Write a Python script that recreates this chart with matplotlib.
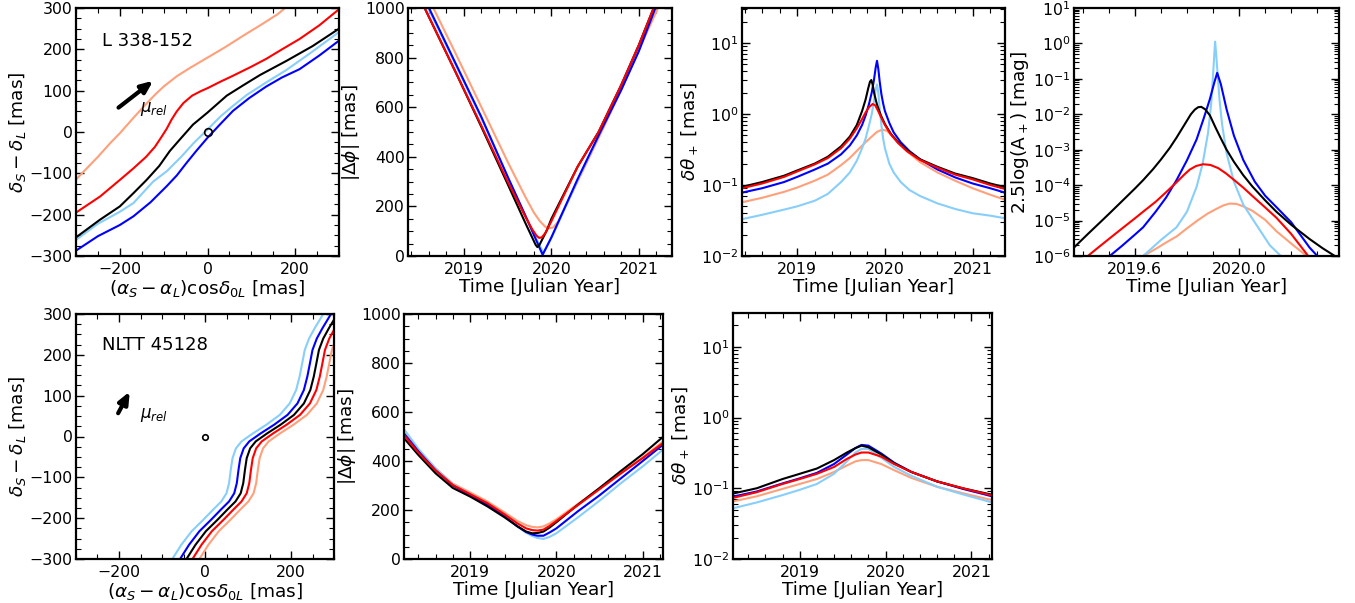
import matplotlib
matplotlib.use('Agg')
import matplotlib.pyplot as plt
from matplotlib.ticker import MultipleLocator, LogLocator, NullFormatter, FormatStrFormatter

plt.rcParams['font.family'] = 'DejaVu Sans'
plt.rcParams['mathtext.fontset'] = 'dejavusans'

# ---------------- data ----------------
series_names = ['salmon', 'lightblue', 'blue', 'black', 'red']
series_colors = {'black': 'black', 'red': '#FF0000', 'blue': '#0000FF',
                 'lightblue': '#87CEFA', 'salmon': '#FFA07A'}

# Panel 1: L 338-152 trajectories (x, y in mas)
t1_black_x = [-300, -245, -200, -169, -139, -110, -86, -63, -33, 0, 44, 80, 120, 180, 240, 300]
t1_black_y = [-255, -212, -180, -148, -116, -82, -46, -18, 18, 47, 88, 112, 138, 172, 208, 250]
t1_red_x = [-300, -245, -200, -169, -140, -120, -105, -93, -82, -70, -55, -35, -15, 0, 30, 58, 100, 134, 170, 210, 255, 300]
t1_red_y = [-195, -156, -116, -88, -60, -36, -12, 8, 30, 50, 70, 88, 99, 106, 122, 136, 158, 177, 200, 225, 258, 297]
t1_blue_x = [-300, -250, -200, -169, -130, -93, -70, -48, -25, 0, 30, 58, 95, 134, 170, 210, 255, 300]
t1_blue_y = [-287, -252, -225, -204, -170, -131, -105, -75, -45, -14, 20, 51, 82, 110, 132, 152, 185, 221]
t1_lblue_x = [-300, -250, -200, -169, -124, -93, -60, -30, 0, 30, 58, 90, 134, 180, 240, 300]
t1_lblue_y = [-261, -222, -193, -172, -120, -95, -60, -25, 6, 38, 63, 90, 120, 150, 195, 242]
t1_salmon_x = [-300, -250, -222, -200, -170, -146, -120, -100, -70, -40, 0, 40, 80, 120, 160, 177]
t1_salmon_y = [-115, -60, -27, -3, 33, 61, 90, 110, 135, 155, 180, 205, 232, 258, 285, 300]

# Panel 2: |dphi| (mas) vs time, L 338-152
p2_black_t = [2018.55, 2018.9, 2019.2, 2019.5, 2019.7, 2019.78, 2019.82, 2019.84, 2019.86, 2019.9, 2019.95, 2020.0, 2020.3, 2020.54, 2020.8, 2021.0, 2021.17]
p2_black_y = [1000, 745, 520, 290, 135, 75, 45, 36, 42, 70, 105, 150, 360, 500, 690, 850, 1000]
p2_red_t = [2018.55, 2018.9, 2019.2, 2019.5, 2019.7, 2019.78, 2019.83, 2019.86, 2019.89, 2019.93, 2020.0, 2020.3, 2020.54, 2020.8, 2021.0, 2021.17]
p2_red_y = [1000, 745, 525, 300, 160, 108, 82, 73, 75, 92, 140, 360, 500, 690, 850, 1000]
p2_blue_t = [2018.60, 2018.9, 2019.2, 2019.5, 2019.7, 2019.8, 2019.9, 2020.0, 2020.3, 2020.56, 2020.8, 2021.0, 2021.19]
p2_blue_y = [1000, 780, 560, 320, 165, 85, 5, 75, 310, 500, 670, 825, 1000]
p2_lblue_t = [2018.59, 2018.9, 2019.2, 2019.5, 2019.7, 2019.8, 2019.91, 2020.0, 2020.3, 2020.56, 2020.8, 2021.0, 2021.18]
p2_lblue_y = [1000, 775, 555, 318, 165, 88, 12, 72, 305, 500, 675, 830, 1000]
p2_salmon_t = [2018.65, 2018.9, 2019.2, 2019.5, 2019.7, 2019.8, 2019.87, 2019.93, 2019.97, 2020.02, 2020.08, 2020.3, 2020.6, 2020.8, 2021.0, 2021.22]
p2_salmon_y = [1000, 820, 600, 380, 240, 175, 140, 118, 112, 115, 140, 300, 520, 670, 830, 1000]

# Panel 3: delta theta+ (mas), L 338-152
p3_black_t = [2018.37, 2018.6, 2018.85, 2019.0, 2019.2, 2019.35, 2019.5, 2019.6, 2019.68, 2019.74, 2019.78, 2019.81, 2019.83, 2019.845, 2019.86, 2019.88, 2019.91, 2019.95, 2020.0, 2020.07, 2020.15, 2020.25, 2020.4, 2020.6, 2020.8, 2021.0, 2021.2, 2021.37]
p3_black_y = [0.094, 0.11, 0.135, 0.16, 0.2, 0.25, 0.35, 0.48, 0.7, 1.1, 1.6, 2.3, 2.85, 3.0, 2.6, 1.9, 1.35, 0.98, 0.72, 0.52, 0.4, 0.31, 0.23, 0.18, 0.145, 0.125, 0.105, 0.093]
p3_red_t = [2018.37, 2018.6, 2018.85, 2019.0, 2019.2, 2019.35, 2019.5, 2019.6, 2019.68, 2019.74, 2019.78, 2019.82, 2019.86, 2019.89, 2019.92, 2019.96, 2020.0, 2020.07, 2020.15, 2020.25, 2020.4, 2020.6, 2020.8, 2021.0, 2021.2, 2021.37]
p3_red_y = [0.09, 0.105, 0.13, 0.155, 0.195, 0.24, 0.33, 0.45, 0.63, 0.85, 1.05, 1.25, 1.38, 1.32, 1.12, 0.88, 0.7, 0.51, 0.39, 0.3, 0.225, 0.175, 0.14, 0.12, 0.1, 0.088]
p3_blue_t = [2018.37, 2018.6, 2018.85, 2019.0, 2019.2, 2019.35, 2019.5, 2019.6, 2019.68, 2019.74, 2019.78, 2019.82, 2019.85, 2019.875, 2019.895, 2019.91, 2019.925, 2019.94, 2019.96, 2019.98, 2020.0, 2020.05, 2020.1, 2020.18, 2020.28, 2020.4, 2020.6, 2020.8, 2021.0, 2021.2, 2021.37]
p3_blue_y = [0.078, 0.09, 0.11, 0.13, 0.165, 0.2, 0.27, 0.36, 0.5, 0.7, 0.95, 1.4, 2.0, 3.0, 4.5, 5.6, 4.3, 2.9, 1.9, 1.4, 1.1, 0.75, 0.55, 0.4, 0.3, 0.23, 0.165, 0.128, 0.105, 0.09, 0.078]
p3_lblue_t = [2018.37, 2018.6, 2018.85, 2019.0, 2019.2, 2019.35, 2019.5, 2019.6, 2019.68, 2019.74, 2019.78, 2019.82, 2019.85, 2019.875, 2019.895, 2019.91, 2019.925, 2019.94, 2019.96, 2019.98, 2020.0, 2020.05, 2020.1, 2020.18, 2020.28, 2020.4, 2020.6, 2020.8, 2021.0, 2021.2, 2021.37]
p3_lblue_y = [0.033, 0.038, 0.045, 0.05, 0.06, 0.075, 0.11, 0.15, 0.22, 0.33, 0.45, 0.7, 1.0, 1.5, 2.2, 2.6, 2.0, 1.2, 0.7, 0.45, 0.33, 0.2, 0.15, 0.11, 0.085, 0.07, 0.055, 0.046, 0.04, 0.037, 0.034]
p3_salmon_t = [2018.37, 2018.6, 2018.85, 2019.0, 2019.2, 2019.35, 2019.5, 2019.6, 2019.7, 2019.78, 2019.85, 2019.91, 2019.97, 2020.02, 2020.08, 2020.15, 2020.25, 2020.4, 2020.6, 2020.8, 2021.0, 2021.2, 2021.37]
p3_salmon_y = [0.057, 0.066, 0.08, 0.092, 0.115, 0.14, 0.19, 0.24, 0.32, 0.4, 0.48, 0.56, 0.6, 0.58, 0.5, 0.4, 0.3, 0.21, 0.15, 0.115, 0.09, 0.073, 0.062]

# Panel 4: 2.5 log(A+) (mag), L 338-152; values given as log10 exponents
p4_black_t = [2019.367, 2019.42, 2019.47, 2019.504, 2019.55, 2019.6, 2019.632, 2019.67, 2019.70, 2019.734, 2019.76, 2019.78, 2019.80, 2019.815, 2019.83, 2019.843, 2019.855, 2019.87, 2019.888, 2019.91, 2019.93, 2019.952, 2019.98, 2020.016, 2020.05, 2020.1, 2020.143, 2020.2, 2020.27, 2020.32, 2020.367]
p4_black_exp = [-5.76, -5.38, -5.03, -4.79, -4.46, -4.1, -3.86, -3.55, -3.28, -2.95, -2.66, -2.42, -2.18, -2.0, -1.87, -1.8, -1.79, -1.86, -2.03, -2.38, -2.68, -3.0, -3.34, -3.72, -4.03, -4.43, -4.75, -5.12, -5.52, -5.78, -6.0]
p4_red_t = [2019.42, 2019.46, 2019.504, 2019.55, 2019.6, 2019.632, 2019.68, 2019.72, 2019.76, 2019.79, 2019.811, 2019.835, 2019.862, 2019.89, 2019.92, 2019.95, 2019.98, 2020.016, 2020.05, 2020.1, 2020.143, 2020.2, 2020.265]
p4_red_exp = [-6.0, -5.76, -5.5, -5.23, -4.94, -4.75, -4.47, -4.2, -3.92, -3.7, -3.56, -3.46, -3.41, -3.43, -3.52, -3.67, -3.85, -4.07, -4.3, -4.63, -4.92, -5.38, -6.0]
p4_blue_t = [2019.504, 2019.55, 2019.6, 2019.632, 2019.68, 2019.72, 2019.76, 2019.8, 2019.837, 2019.865, 2019.888, 2019.905, 2019.916, 2019.93, 2019.952, 2019.98, 2020.016, 2020.06, 2020.1, 2020.143, 2020.2, 2020.27, 2020.3]
p4_blue_exp = [-6.0, -5.72, -5.4, -5.19, -4.75, -4.35, -3.86, -3.3, -2.71, -2.1, -1.57, -1.1, -0.83, -1.15, -1.86, -2.6, -3.29, -3.9, -4.3, -4.62, -5.05, -5.76, -6.0]
p4_lblue_t = [2019.632, 2019.7, 2019.76, 2019.8, 2019.837, 2019.86, 2019.881, 2019.893, 2019.9, 2019.905, 2019.908, 2019.912, 2019.918, 2019.925, 2019.935, 2019.952, 2019.98, 2020.016, 2020.06, 2020.118, 2020.16]
p4_lblue_exp = [-6.0, -5.55, -5.19, -4.75, -4.05, -3.4, -2.52, -1.7, -0.9, -0.3, 0.05, -0.3, -0.9, -1.6, -2.3, -3.1, -3.9, -4.55, -5.05, -5.7, -6.0]
p4_salmon_t = [2019.632, 2019.68, 2019.72, 2019.76, 2019.8, 2019.84, 2019.88, 2019.913, 2019.94, 2019.964, 2019.99, 2020.016, 2020.05, 2020.1, 2020.143, 2020.2, 2020.259]
p4_salmon_exp = [-6.0, -5.8, -5.62, -5.45, -5.22, -5.0, -4.8, -4.67, -4.57, -4.52, -4.53, -4.6, -4.72, -4.98, -5.3, -5.65, -6.0]

# Panel 5: NLTT 45128 trajectories (x, y in mas)
t5_y = [-300, -265, -232, -204, -179, -159, -139, -114, -81, -53, -29, -12, 8, 29, 53, 81, 114, 147, 179, 212, 240, 265, 300]
t5_lblue_x = [-76, -55, -31, -4, 19, 38, 50, 56, 60, 64, 72, 85, 112, 143, 174, 197, 212, 220, 226, 232, 242, 255, 275]
t5_blue_x = [-58, -37, -13, 14, 37, 56, 68, 74, 78, 82, 90, 103, 130, 161, 192, 215, 230, 238, 244, 250, 260, 273, 293]
t5_black_x = [-43, -22, 2, 29, 52, 71, 83, 89, 93, 97, 105, 118, 145, 176, 207, 230, 245, 253, 259, 265, 275, 288, 308]
t5_red_x = [-29, -8, 16, 43, 66, 85, 97, 103, 107, 111, 119, 132, 159, 190, 221, 244, 259, 267, 273, 279, 289, 302, 322]
t5_salmon_x = [-13, 8, 32, 59, 82, 101, 113, 119, 123, 127, 135, 148, 175, 206, 237, 260, 275, 283, 289, 295, 305, 318, 338]

# Panel 6: |dphi| (mas), NLTT 45128
p6_t = [2018.235, 2018.4, 2018.6, 2018.8, 2019.0, 2019.2, 2019.4, 2019.55, 2019.65, 2019.72, 2019.78, 2019.85, 2019.92, 2020.0, 2020.25, 2020.5, 2020.75, 2021.0, 2021.23]
p6_black = [493, 425, 350, 290, 255, 215, 170, 133, 112, 105, 106, 112, 128, 150, 222, 290, 360, 428, 497]
p6_red = [505, 435, 362, 302, 265, 228, 182, 145, 125, 118, 116, 120, 135, 155, 220, 285, 350, 412, 472]
p6_salmon = [515, 445, 370, 308, 272, 235, 190, 155, 138, 131, 129, 133, 145, 162, 225, 288, 352, 415, 478]
p6_blue = [512, 440, 362, 300, 262, 222, 174, 133, 110, 100, 95, 95, 108, 125, 195, 260, 330, 400, 465]
p6_lblue = [530, 450, 370, 305, 265, 223, 175, 132, 107, 94, 86, 82, 90, 105, 170, 238, 310, 378, 445]

# Panel 7: delta theta+ (mas), NLTT 45128
p7_t = [2018.22, 2018.5, 2018.8, 2019.0, 2019.2, 2019.4, 2019.55, 2019.65, 2019.72, 2019.8, 2019.95, 2020.1, 2020.3, 2020.6, 2020.9, 2021.24]
p7_black = [0.084, 0.10, 0.135, 0.16, 0.19, 0.25, 0.32, 0.37, 0.40, 0.38, 0.30, 0.225, 0.17, 0.125, 0.10, 0.081]
p7_red = [0.073, 0.088, 0.115, 0.135, 0.16, 0.20, 0.26, 0.30, 0.32, 0.32, 0.28, 0.22, 0.17, 0.125, 0.10, 0.079]
p7_blue = [0.076, 0.09, 0.117, 0.138, 0.165, 0.22, 0.30, 0.37, 0.41, 0.40, 0.31, 0.23, 0.17, 0.125, 0.098, 0.077]
p7_salmon = [0.065, 0.077, 0.098, 0.115, 0.135, 0.17, 0.21, 0.24, 0.25, 0.25, 0.22, 0.18, 0.14, 0.105, 0.085, 0.068]
p7_lblue = [0.052, 0.063, 0.08, 0.095, 0.115, 0.16, 0.24, 0.32, 0.36, 0.36, 0.27, 0.20, 0.15, 0.105, 0.082, 0.063]

xy_label = r'$(\alpha_S-\alpha_L)\mathrm{cos}\delta_{0L}$ [mas]'
dec_label = r'$\delta_S-\delta_L$ [mas]'
dphi_label = r'$|\Delta\phi|$ [mas]'
dth_label = r'$\delta\theta_+$ [mas]'
mag_label = r'2.5log(A$_+$) [mag]'
time_label = 'Time [Julian Year]'

# ---------------- figure ----------------
W, H = 1355, 603
fig = plt.figure(figsize=(W / 100, H / 100), dpi=100)

def mk(left, top, w, h):
    return fig.add_axes([left / W, 1 - (top + h) / H, w / W, h / H])

LW = 1.5
TICK = 11.3
LAB = 13.3

def style(ax, log=False):
    for s in ax.spines.values():
        s.set_linewidth(1.6)
    ax.tick_params(which='both', direction='in', top=True, right=True, labelsize=TICK)
    ax.tick_params(which='major', length=6, width=1.0)
    ax.tick_params(which='minor', length=3.5, width=0.8)
    ax.tick_params(axis='y', which='major', pad=2.5)
    ax.tick_params(axis='x', which='major', pad=4)
    if log:
        ax.set_yscale('log')
        ax.yaxis.set_major_locator(LogLocator(base=10, numticks=20))
        ax.yaxis.set_minor_locator(LogLocator(base=10, subs=range(2, 10), numticks=20))
        ax.yaxis.set_minor_formatter(NullFormatter())

def plot5(ax, d):
    for name in series_names:
        x, y = d[name]
        ax.plot(x, y, color=series_colors[name], lw=LW)

ARROW = dict(arrowstyle='-|>,head_length=0.7,head_width=0.3', color='black', lw=3,
             shrinkA=0, shrinkB=0)

# Panel 1
ax1 = mk(76, 8, 263, 248)
style(ax1)
plot5(ax1, {'black': (t1_black_x, t1_black_y), 'red': (t1_red_x, t1_red_y),
            'blue': (t1_blue_x, t1_blue_y), 'lightblue': (t1_lblue_x, t1_lblue_y),
            'salmon': (t1_salmon_x, t1_salmon_y)})
ax1.plot([0], [0], 'o', mfc='none', mec='black', ms=5.5, mew=1.2)
ax1.annotate('', xy=(-124, 124), xytext=(-203, 59), arrowprops=ARROW)
ax1.text(-154, 55, r'$\mu_{rel}$', fontsize=12, va='center', ha='left')
ax1.text(-241, 221, 'L 338-152', fontsize=13, va='center', ha='left')
ax1.set_xlim(-300, 300); ax1.set_ylim(-300, 300)
ax1.xaxis.set_major_locator(MultipleLocator(200)); ax1.xaxis.set_minor_locator(MultipleLocator(50))
ax1.yaxis.set_major_locator(MultipleLocator(100)); ax1.yaxis.set_minor_locator(MultipleLocator(25))
ax1.set_xlabel(xy_label, fontsize=LAB, labelpad=1)
ax1.set_ylabel(dec_label, fontsize=LAB, labelpad=1)

# Panel 2
ax2 = mk(408, 8, 264, 248)
style(ax2)
plot5(ax2, {'black': (p2_black_t, p2_black_y), 'red': (p2_red_t, p2_red_y),
            'blue': (p2_blue_t, p2_blue_y), 'lightblue': (p2_lblue_t, p2_lblue_y),
            'salmon': (p2_salmon_t, p2_salmon_y)})
ax2.set_xlim(2018.36, 2021.38); ax2.set_ylim(0, 1000)
ax2.xaxis.set_major_locator(MultipleLocator(1)); ax2.xaxis.set_minor_locator(MultipleLocator(0.2))
ax2.yaxis.set_major_locator(MultipleLocator(200)); ax2.yaxis.set_minor_locator(MultipleLocator(50))
ax2.set_xlabel(time_label, fontsize=LAB, labelpad=1)
ax2.set_ylabel(dphi_label, fontsize=LAB, labelpad=2)

# Panel 3
ax3 = mk(742, 8, 263, 248)
style(ax3, log=True)
plot5(ax3, {'black': (p3_black_t, p3_black_y), 'red': (p3_red_t, p3_red_y),
            'blue': (p3_blue_t, p3_blue_y), 'lightblue': (p3_lblue_t, p3_lblue_y),
            'salmon': (p3_salmon_t, p3_salmon_y)})
ax3.set_xlim(2018.37, 2021.37); ax3.set_ylim(0.01, 31)
ax3.xaxis.set_major_locator(MultipleLocator(1)); ax3.xaxis.set_minor_locator(MultipleLocator(0.2))
ax3.set_xlabel(time_label, fontsize=LAB, labelpad=1)
ax3.set_ylabel(dth_label, fontsize=LAB, labelpad=1)

# Panel 4
ax4 = mk(1074, 8, 265, 248)
style(ax4, log=True)
p4 = {'black': (p4_black_t, p4_black_exp), 'red': (p4_red_t, p4_red_exp),
      'blue': (p4_blue_t, p4_blue_exp), 'lightblue': (p4_lblue_t, p4_lblue_exp),
      'salmon': (p4_salmon_t, p4_salmon_exp)}
plot5(ax4, {k: (t, [10.0 ** e for e in ex]) for k, (t, ex) in p4.items()})
ax4.set_xlim(2019.367, 2020.383); ax4.set_ylim(1e-6, 10)
ax4.xaxis.set_major_locator(MultipleLocator(0.4)); ax4.xaxis.set_minor_locator(MultipleLocator(0.1))
ax4.xaxis.set_major_formatter(FormatStrFormatter('%.1f'))
ax4.set_xlabel(time_label, fontsize=LAB, labelpad=1)
ax4.set_ylabel(mag_label, fontsize=LAB, labelpad=1)

# Panel 5
ax5 = mk(76, 314, 258, 245)
style(ax5)
plot5(ax5, {'black': (t5_black_x, t5_y), 'red': (t5_red_x, t5_y),
            'blue': (t5_blue_x, t5_y), 'lightblue': (t5_lblue_x, t5_y),
            'salmon': (t5_salmon_x, t5_y)})
ax5.plot([0], [0], 'o', mfc='none', mec='black', ms=4, mew=1.2)
ax5.annotate('', xy=(-175, 110), xytext=(-202, 57), arrowprops=ARROW)
ax5.text(-151, 53, r'$\mu_{rel}$', fontsize=12, va='center', ha='left')
ax5.text(-240, 224, 'NLTT 45128', fontsize=13, va='center', ha='left')
ax5.set_xlim(-300, 300); ax5.set_ylim(-300, 300)
ax5.xaxis.set_major_locator(MultipleLocator(200)); ax5.xaxis.set_minor_locator(MultipleLocator(50))
ax5.yaxis.set_major_locator(MultipleLocator(100)); ax5.yaxis.set_minor_locator(MultipleLocator(25))
ax5.set_xlabel(xy_label, fontsize=LAB, labelpad=1)
ax5.set_ylabel(dec_label, fontsize=LAB, labelpad=1)

# Panel 6
ax6 = mk(404, 314, 259, 245)
style(ax6)
plot5(ax6, {'black': (p6_t, p6_black), 'red': (p6_t, p6_red), 'blue': (p6_t, p6_blue),
            'lightblue': (p6_t, p6_lblue), 'salmon': (p6_t, p6_salmon)})
ax6.set_xlim(2018.235, 2021.235); ax6.set_ylim(0, 1000)
ax6.xaxis.set_major_locator(MultipleLocator(1)); ax6.xaxis.set_minor_locator(MultipleLocator(0.2))
ax6.yaxis.set_major_locator(MultipleLocator(200)); ax6.yaxis.set_minor_locator(MultipleLocator(50))
ax6.set_xlabel(time_label, fontsize=LAB, labelpad=1)
ax6.set_ylabel(dphi_label, fontsize=LAB, labelpad=2)

# Panel 7
ax7 = mk(733, 313, 259, 246)
style(ax7, log=True)
plot5(ax7, {'black': (p7_t, p7_black), 'red': (p7_t, p7_red), 'blue': (p7_t, p7_blue),
            'lightblue': (p7_t, p7_lblue), 'salmon': (p7_t, p7_salmon)})
ax7.set_xlim(2018.223, 2021.24); ax7.set_ylim(0.01, 30)
ax7.xaxis.set_major_locator(MultipleLocator(1)); ax7.xaxis.set_minor_locator(MultipleLocator(0.2))
ax7.set_xlabel(time_label, fontsize=LAB, labelpad=1)
ax7.set_ylabel(dth_label, fontsize=LAB, labelpad=1)

fig.savefig('out.png', dpi=100)
